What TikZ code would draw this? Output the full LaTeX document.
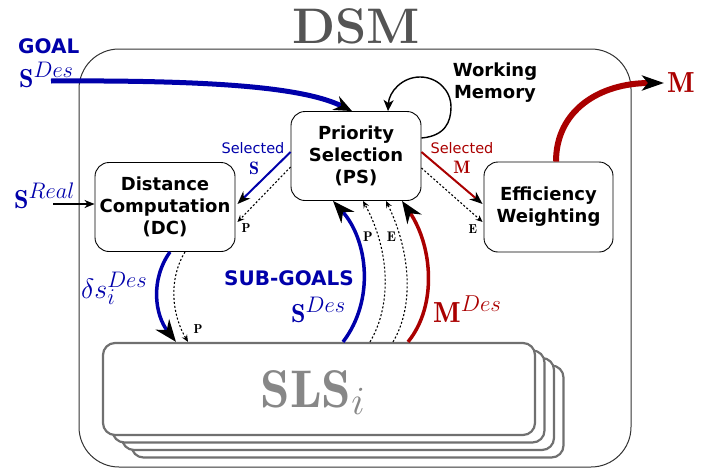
\RequirePackage{fix-cm}
\documentclass[tikz,border=0pt]{standalone}
\usepackage{fontspec}
\setsansfont{DejaVu Sans}
\usetikzlibrary{arrows.meta}
\definecolor{dblue}{RGB}{0,0,170}
\definecolor{dred}{RGB}{170,0,0}
\definecolor{slsgray}{RGB}{112,112,112}
\DeclareMathSizes{13}{13}{9}{7}
\DeclareMathSizes{14}{14}{10}{7}
\DeclareMathSizes{18}{18}{13}{10}
\DeclareMathSizes{26}{26}{22.5}{16}
\DeclareMathSizes{28}{28}{22.5}{16}
\DeclareMathSizes{29}{29}{23}{16}
\DeclareMathSizes{53}{53}{40}{26}
\newcommand\fs[1]{\fontsize{#1}{#1}\selectfont}
\begin{document}
\begin{tikzpicture}[x=1pt,y=-1pt,
  box/.style={draw=black, line width=0.9pt, rounded corners=14pt, align=center, inner sep=0pt,
    font=\sffamily\bfseries\fontsize{18}{22}\selectfont},
  slsbox/.style={draw=slsgray, line width=2.2pt, fill=white, rounded corners=12pt,
    minimum width=432pt, minimum height=92pt, inner sep=0pt},
  bigtip/.style={-{Stealth[length=22pt,width=17pt,inset=7pt,color=black]}},
  midtip/.style={-{Stealth[length=13pt,width=10pt,inset=4pt,color=black]}},
  smalltip/.style={-{Stealth[length=7pt,width=6pt,inset=2.5pt,color=black]}},
  dots/.style={dash pattern=on 2pt off 2pt, line width=1.1pt, black},
  sel/.style={font=\sffamily\fs{14.5}},
  pe/.style={inner sep=0pt},
  lab/.style={anchor=base west, inner sep=0pt}
]
\useasboundingbox (0,0) rectangle (727,471);

% container
\node[draw=black!80, line width=1pt, rounded corners=40pt, minimum width=552pt, minimum height=418pt] (dsm) at (355,258) {};
\node[text=black!67, font=\fs{50}\bfseries] (title) at (356,26) {DSM};

% SLS stack
\node[slsbox] (sls3) at (347.5,411.5) {};
\node[slsbox] (sls2) at (338,404) {};
\node[slsbox] (sls1) at (328.5,396.5) {};
\node[slsbox] (sls) at (319,389) {};
\node[anchor=base, text=black!47] (slstext) at (313,407) {\fs{53}$\mathbf{SLS}_i$};

% main boxes
\node[box, minimum width=130pt, minimum height=89pt] (ps) at (356,156) {Priority\\Selection\\(PS)};
\node[box, minimum width=140pt, minimum height=89pt] (dc) at (165,207) {Distance\\Computation\\(DC)};
\node[box, minimum width=129pt, minimum height=90pt] (ew) at (548.5,207) {Efficiency\\Weighting};
\node[align=center, font=\sffamily\bfseries\fontsize{18}{22}\selectfont] (wm) at (495,83) {Working\\Memory};

% working memory loop
\draw[black, line width=1.4pt, -{Stealth[length=11pt,width=10pt,inset=3pt]}]
  ([yshift=18pt]ps.east) .. controls (445,136) and (451,122) .. (451,107)
  .. controls (451,90) and (437,77) .. (420,77)
  .. controls (402,77) and (389,92) .. ([xshift=32pt]ps.north);

% goal
\node[lab, text=dblue, font=\sffamily\bfseries\fs{20}] (goal) at (18,53) {GOAL};
\node[lab, text=dblue] (sdes) at (19,87) {\fs{26}$\mathbf{S}^{Des}$};
\coordinate (g0) at (51,81);
\draw[dblue, line width=5pt, -{Stealth[length=18pt,width=15pt,inset=6pt,color=black]}]
  (g0) .. controls (220,80) and (305,88) .. ([xshift=-4pt]ps.north);

% S real
\node[lab, text=dblue] (sreal) at (14,208) {\fs{26}$\mathbf{S}^{Real}$};
\coordinate (sr) at (53,204);
\draw[black, line width=1.4pt, -{Stealth[length=10pt,width=8pt,inset=3pt]}] (sr) -- ([yshift=3pt]dc.west);

% selected S
\draw[dblue, line width=2pt, midtip] ([yshift=4pt]ps.west) -- ([xshift=2pt,yshift=3pt]dc.east);
\draw[dots, smalltip] ([yshift=-11pt]ps.west) -- ([xshift=2pt,yshift=-15pt]dc.east);
\node[sel, text=dblue] (selS) at (253,148) {Selected};
\node[text=dblue, inner sep=0pt] (selSm) at (254,168) {\fs{18}$\mathbf{S}$};
\node[pe] (p1) at (246,228) {\fs{13}$\mathbf{P}$};

% selected M
\draw[dred, line width=2pt, midtip] ([yshift=4pt]ps.east) -- ([xshift=-1pt,yshift=3pt]ew.west);
\draw[dots, smalltip] ([yshift=-12pt]ps.east) -- ([xshift=-1pt,yshift=-15pt]ew.west);
\node[sel, text=dred] (selM) at (462,148) {Selected};
\node[text=dred, inner sep=0pt] (selMm) at (462,167) {\fs{18}$\mathbf{M}$};
\node[pe] (e1) at (473,229) {\fs{13}$\mathbf{E}$};

% DC to SLS
\draw[dblue, line width=3.5pt, bigtip] ([xshift=5pt]dc.south) .. controls (150,280) and (155,315) .. ([xshift=-143pt]sls.north);
\draw[dots, smalltip] ([xshift=20pt]dc.south) .. controls (168,280) and (172,315) .. ([xshift=-131pt]sls.north);
\node[lab, text=dblue] (dsi) at (81,298) {\fs{28}$\delta s_i^{Des}$};
\node[pe] (p2) at (198,329) {\fs{13}$\mathbf{P}$};

% SLS to PS
\draw[dblue, line width=3.5pt, bigtip] ([xshift=24pt]sls.north) .. controls (375,300) and (368,240) .. ([xshift=-23pt]ps.south);
\draw[dots, smalltip] ([xshift=51pt]sls.north) .. controls (392,305) and (390,250) .. ([xshift=7pt]ps.south);
\draw[dots, smalltip] ([xshift=74pt]sls.north) .. controls (415,305) and (410,250) .. ([xshift=30pt]ps.south);
\draw[dred, line width=3.5pt, bigtip] ([xshift=89pt]sls.north) .. controls (438,305) and (432,245) .. ([xshift=46pt]ps.south);
\node[pe] (p3) at (368,237) {\fs{14}$\mathbf{P}$};
\node[pe] (e3) at (391.5,237) {\fs{14}$\mathbf{E}$};
\node[text=dblue, font=\sffamily\bfseries\fs{20}] (sub) at (289,278) {SUB-GOALS};
\node[lab, text=dblue] (sdes2) at (291,322) {\fs{26}$\mathbf{S}^{Des}$};
\node[lab, text=dred] (mdes) at (433,322) {\fs{29}$\mathbf{M}^{Des}$};

% M out
\coordinate (mout) at (664,83);
\draw[dred, line width=6pt, -{Stealth[length=22pt,width=15pt,inset=6pt,color=black]}]
  ([xshift=7.5pt]ew.north) .. controls (556,110) and (600,83) .. (mout);
\node[lab, text=dred] (mlab) at (667,92) {\fs{29}$\mathbf{M}$};
\end{tikzpicture}
\end{document}
